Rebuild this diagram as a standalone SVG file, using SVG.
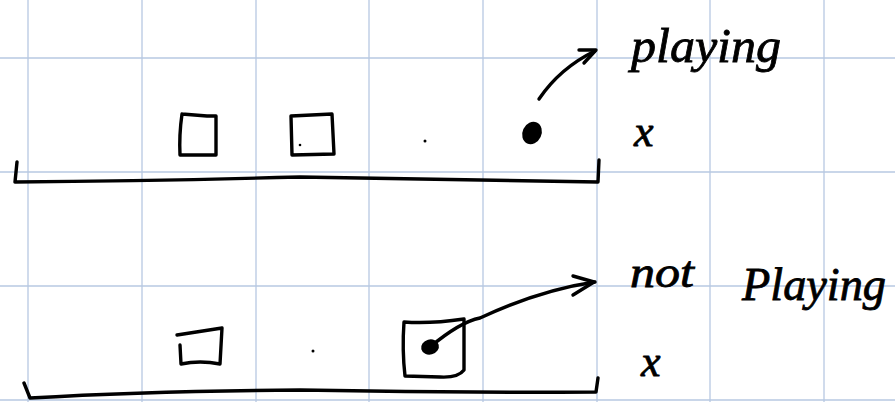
<svg xmlns="http://www.w3.org/2000/svg" width="895" height="402" viewBox="0 0 895 402">
<style>
.grid line{stroke:#b7c8e2;stroke-width:1.3}
.ink{fill:none;stroke:#000;stroke-width:3.4;stroke-linecap:round;stroke-linejoin:round}
.fill{fill:#000}
.hand{font-family:"Liberation Serif",serif;font-style:italic;fill:#000;stroke:#000;stroke-width:0.8}
</style>
<rect width="895" height="402" fill="#fff"/>
<g class="grid">
<line x1="28" y1="0" x2="28" y2="402"/>
<line x1="142" y1="0" x2="142" y2="402"/>
<line x1="256" y1="0" x2="256" y2="402"/>
<line x1="369" y1="0" x2="369" y2="402"/>
<line x1="483" y1="0" x2="483" y2="402"/>
<line x1="597" y1="0" x2="597" y2="402"/>
<line x1="710" y1="0" x2="710" y2="402"/>
<line x1="824" y1="0" x2="824" y2="402"/>
<line x1="0" y1="58" x2="895" y2="58"/>
<line x1="0" y1="172" x2="895" y2="172"/>
<line x1="0" y1="286" x2="895" y2="286"/>
<line x1="0" y1="400" x2="895" y2="400"/>
</g>
<g id="top-row">
<path class="ink" d="M17 162 L15 182 Q150 181 300 177 Q450 180 598 182 L599 160"/>
</g>
<g id="top-box1"><path class="ink" d="M182 114 L207 116 L216 116 L216 155 L180 155 Q179 135 182 114"/></g>
<g id="top-box2"><path class="ink" d="M291 116 L332 114 L334 154 L292 155 Z"/><circle class="fill" cx="300" cy="145" r="1.3"/></g>
<g id="top-dot-small"><circle class="fill" cx="425" cy="141" r="1.5"/></g>
<g id="top-dot"><ellipse class="fill" cx="532" cy="133" rx="9.5" ry="11.5" transform="rotate(25 532 133)"/></g>
<g id="top-label"><text class="hand" x="631" y="62" font-size="48" textLength="150" lengthAdjust="spacingAndGlyphs">playing</text></g>
<g id="top-x"><text class="hand" x="634" y="146" font-size="44">x</text></g>
<g id="bottom-row">
<path class="ink" d="M24 383 L30 398 Q150 391 300 390 Q450 393 596 392 L598 378"/>
</g>
<g id="bottom-box1"><path class="ink" d="M177 335 L222 328 L220 364 Q200 360 181 364 L180 345"/></g>
<g id="bottom-dot-small"><circle class="fill" cx="313" cy="351" r="1.5"/></g>
<g id="bottom-box2"><path class="ink" d="M404 322 Q430 324 464 319 L464 370 Q458 378 440 377 L405 376 Q402 350 404 322 Z"/><ellipse class="fill" cx="430" cy="347" rx="9" ry="7.5" transform="rotate(-15 430 347)"/></g>
<g id="bottom-label"><text class="hand" x="630" y="287" font-size="44" textLength="64" lengthAdjust="spacingAndGlyphs">not</text><text class="hand" x="742" y="300" font-size="46" textLength="144" lengthAdjust="spacingAndGlyphs">Playing</text></g>
<g id="bottom-x"><text class="hand" x="641" y="376" font-size="44">x</text></g>
<g id="connectors">
<path class="ink" d="M539 99 Q560 68 595 51"/>
<path class="ink" d="M579 50 L596 50 L584 63"/>
<path class="ink" d="M430 347 Q460 322 480 318 Q540 290 595 282"/>
<path class="ink" d="M573 276 L594 282 L573 295"/>
</g>
</svg>
